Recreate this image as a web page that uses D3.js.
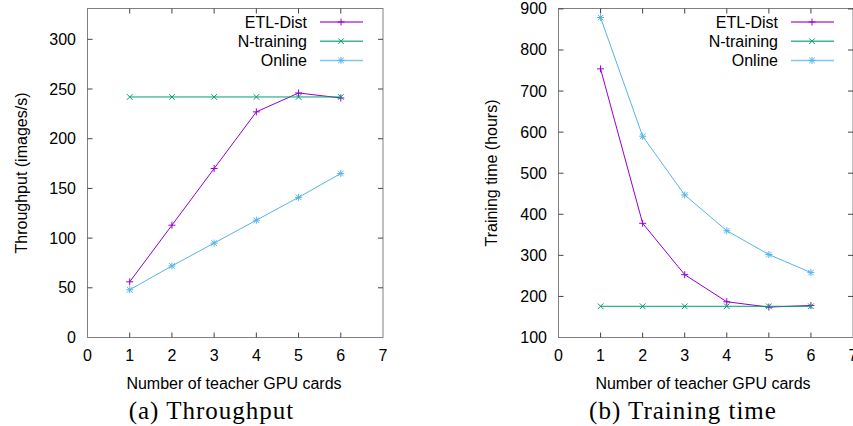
<!DOCTYPE html>
<html>
<head>
<meta charset="utf-8">
<script src="https://cdn.jsdelivr.net/npm/d3@7"></script>
<style>
  body { margin: 0; background: #fff; }
  svg { display: block; }
</style>
</head>
<body>
<div id="container"></div>
<script>
let width = 853;
let height = 426;

// x values (number of teacher GPU cards)
var cards = [1, 2, 3, 4, 5, 6];
var xTicks = [0, 1, 2, 3, 4, 5, 6, 7];

// (a) throughput, images/s
var thrEtl = [56, 113, 170, 227, 246, 241];
var thrNtrain = [242, 242, 242, 242, 242, 242];
var thrOnline = [48, 72, 95, 118, 141, 165];
var thrTicks = [0, 50, 100, 150, 200, 250, 300];

// (b) training time, hours
var timeEtl = [754, 378, 253, 187, 174, 178];
var timeNtrain = [176, 176, 176, 176, 176, 176];
var timeOnline = [879, 590, 447, 360, 302, 258];
var timeTicks = [100, 200, 300, 400, 500, 600, 700, 800, 900];

var seriesNames = ['ETL-Dist', 'N-training', 'Online'];
var seriesColors = ['#9400d3', '#009e73', '#56b4e9'];
var seriesMarks = ['plus', 'cross', 'star'];

var sans = "'Liberation Sans', Arial, sans-serif";

let viz = d3.select("#container").append("svg")
  .attr("width", width)
  .attr("height", height)
;

function marker(g, type, x, y, color) {
  let s = 3.5;
  let segs = [];
  if (type == 'plus' || type == 'star') {
    segs.push([x - s, y, x + s, y], [x, y - s, x, y + s]);
  }
  if (type == 'cross' || type == 'star') {
    let d = s * 0.8;
    segs.push([x - d, y - d, x + d, y + d], [x - d, y + d, x + d, y - d]);
  }
  segs.forEach(function(p) {
    g.append('line')
      .attr('x1', p[0]).attr('y1', p[1])
      .attr('x2', p[2]).attr('y2', p[3])
      .attr('stroke', color)
      .attr('stroke-width', 1);
  });
}

function panel(opt) {
  let x = d3.scaleLinear().domain([0, 7]).range([opt.left, opt.right]);
  let y = d3.scaleLinear().domain(opt.yDomain).range([opt.bottom, opt.top]);
  let g = viz.append('g');

  // frame
  g.append('rect')
    .attr('x', opt.left).attr('y', opt.top)
    .attr('width', opt.right - opt.left)
    .attr('height', opt.bottom - opt.top)
    .attr('fill', 'none')
    .attr('stroke', '#808080')
    .attr('stroke-width', 1);

  // ticks (mirrored, inward)
  let tl = 5;
  xTicks.slice(1, -1).forEach(function(t) {
    g.append('line').attr('x1', x(t)).attr('x2', x(t))
      .attr('y1', opt.bottom).attr('y2', opt.bottom - tl)
      .attr('stroke', '#444');
    g.append('line').attr('x1', x(t)).attr('x2', x(t))
      .attr('y1', opt.top).attr('y2', opt.top + tl)
      .attr('stroke', '#444');
  });
  opt.yTicks.slice(1).forEach(function(t) {
    g.append('line').attr('x1', opt.left).attr('x2', opt.left + tl)
      .attr('y1', y(t)).attr('y2', y(t))
      .attr('stroke', '#444');
    g.append('line').attr('x1', opt.right).attr('x2', opt.right - tl)
      .attr('y1', y(t)).attr('y2', y(t))
      .attr('stroke', '#444');
  });

  // tick labels
  g.selectAll('.xl').data(xTicks).enter().append('text')
    .attr('x', function(d) { return x(d); })
    .attr('y', opt.bottom + 23.5)
    .attr('text-anchor', 'middle')
    .style('font-family', sans)
    .style('font-size', '16px')
    .style('fill', '#000')
    .text(function(d) { return d; });
  g.selectAll('.yl').data(opt.yTicks).enter().append('text')
    .attr('x', opt.left - 11.5)
    .attr('y', function(d) { return y(d) + 5.5; })
    .attr('text-anchor', 'end')
    .style('font-family', sans)
    .style('font-size', '16px')
    .style('fill', '#000')
    .text(function(d) { return d; });

  // axis titles
  g.append('text')
    .attr('x', opt.xTitleX)
    .attr('y', opt.bottom + 51.5)
    .attr('text-anchor', 'middle')
    .style('font-family', sans)
    .style('font-size', '16px')
    .text('Number of teacher GPU cards');
  g.append('text')
    .attr('transform', 'translate(' + opt.yTitleX + ',' + ((opt.top + opt.bottom) / 2) + ') rotate(-90)')
    .attr('text-anchor', 'middle')
    .style('font-family', sans)
    .style('font-size', '16px')
    .text(opt.yTitle);

  // caption
  g.append('text')
    .attr('x', opt.captionX)
    .attr('y', 419)
    .attr('text-anchor', 'middle')
    .style('font-family', "'Liberation Serif', 'DejaVu Serif', serif")
    .style('font-size', '25px')
    .style('letter-spacing', '1px')
    .text(opt.caption);

  // series
  let line = d3.line()
    .x(function(d) { return x(d[0]); })
    .y(function(d) { return y(d[1]); });

  opt.series.forEach(function(vals, i) {
    let pts = cards.map(function(c, j) { return [c, vals[j]]; });
    g.append('path')
      .attr('d', line(pts))
      .attr('fill', 'none')
      .attr('stroke', seriesColors[i])
      .attr('stroke-width', 1);
    pts.forEach(function(p) {
      marker(g, seriesMarks[i], x(p[0]), y(p[1]), seriesColors[i]);
    });
  });

  // legend
  seriesNames.forEach(function(name, i) {
    let ly = opt.top + 13.5 + i * 19.2;
    g.append('text')
      .attr('x', opt.legendX)
      .attr('y', ly + 5.5)
      .attr('text-anchor', 'end')
      .style('font-family', sans)
      .style('font-size', '16px')
      .text(name);
    g.append('line')
      .attr('x1', opt.legendX + 13).attr('x2', opt.legendX + 56)
      .attr('y1', ly).attr('y2', ly)
      .attr('stroke', seriesColors[i])
      .attr('stroke-width', 1.5)
      .attr('opacity', 0.75);
    marker(g, seriesMarks[i], opt.legendX + 34, ly, seriesColors[i]);
  });
}

panel({
  left: 87.5, right: 383, top: 8.5, bottom: 337.5,
  yDomain: [0, 331],
  yTicks: thrTicks,
  yTitle: 'Throughput (images/s)',
  yTitleX: 27,
  xTitleX: 234,
  caption: '(a) Throughput',
  captionX: 211.5,
  legendX: 307,
  series: [thrEtl, thrNtrain, thrOnline]
});

panel({
  left: 558.5, right: 853, top: 8.5, bottom: 337.5,
  yDomain: [100, 901],
  yTicks: timeTicks,
  yTitle: 'Training time (hours)',
  yTitleX: 497,
  xTitleX: 703,
  caption: '(b) Training time',
  captionX: 683,
  legendX: 778,
  series: [timeEtl, timeNtrain, timeOnline]
});
</script>
</body>
</html>
